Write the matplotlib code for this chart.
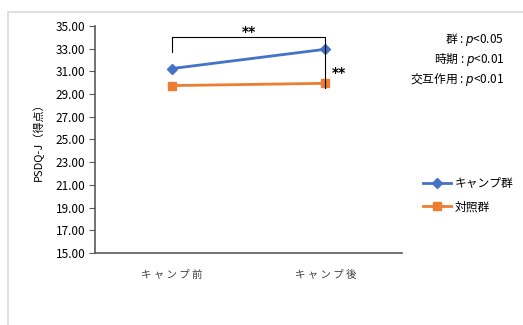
import matplotlib.pyplot as plt
from matplotlib.patches import Rectangle

plt.rcParams['font.family'] = ['Noto Sans CJK JP', 'DejaVu Sans']

categories = ['キ ャ ン プ 前', 'キ ャ ン プ 後']
camp = [31.25, 32.95]
control = [29.75, 29.95]
series_names = ['キャンプ群', '対照群']
stats_lines = ['群 : $p$<0.05', '時期 : $p$<0.01', '交互作用 : $p$<0.01']

W, H = 523, 325
fig = plt.figure(figsize=(W / 100, H / 100), dpi=100)

# light frame around the chart area (runs off right/bottom edges)
fig.patches.append(Rectangle((8 / W, -0.5), 2, 1.5 - 12 / H, transform=fig.transFigure,
                             fill=False, edgecolor='#d9d9d9', linewidth=1.2))

ax = fig.add_axes([95 / W, 1 - 253 / H, 307 / W, 227 / H])
x = range(len(categories))
l1, = ax.plot(x, camp, color='#4472C4', marker='D', markersize=5, linewidth=2,
              label=series_names[0])
l2, = ax.plot(x, control, color='#ED7D31', marker='s', markersize=6, linewidth=2,
              label=series_names[1])

ax.set_xlim(-0.5, 1.5)
ax.set_ylim(15, 35)
ax.set_yticks([15 + 2 * i for i in range(11)])
ax.set_yticklabels(['%.2f' % (15 + 2 * i) for i in range(11)], fontsize=8.5)
ax.set_xticks(list(x))
ax.set_xticklabels(categories, fontsize=7.5, color='#404040')
ax.tick_params(axis='x', length=0, pad=12)
ax.tick_params(axis='y', length=4, width=0.8, color='#595959', pad=3)
for s in ['top', 'right']:
    ax.spines[s].set_visible(False)
for s in ['left', 'bottom']:
    ax.spines[s].set_color('#595959')
    ax.spines[s].set_linewidth(1.2)
ax.set_ylabel('PSDQ-J（得点）', fontsize=8, labelpad=8)

# significance brackets
ax.plot([0, 0, 1, 1], [32.7, 34.05, 34.05, 29.5], color='black', linewidth=0.8,
        clip_on=False)
ax.text(0.5, 34.45, '**', ha='center', va='center', fontsize=10,
        family='DejaVu Sans', fontweight='bold')
ax.text(1.045, 30.85, '**', ha='left', va='center', fontsize=10,
        family='DejaVu Sans', fontweight='bold')

fig.text(504 / W, 1 - 31 / H, '\n'.join(stats_lines), ha='right', va='top',
         fontsize=8.5, linespacing=1.25)

fig.legend(handles=[l1, l2], loc='upper left', bbox_to_anchor=(418 / W, 1 - 172 / H),
           frameon=False, fontsize=8.5, handlelength=2.4, handletextpad=0.3,
           labelspacing=0.9, borderaxespad=0)

fig.savefig('out.png', dpi=100)
plt.close(fig)
